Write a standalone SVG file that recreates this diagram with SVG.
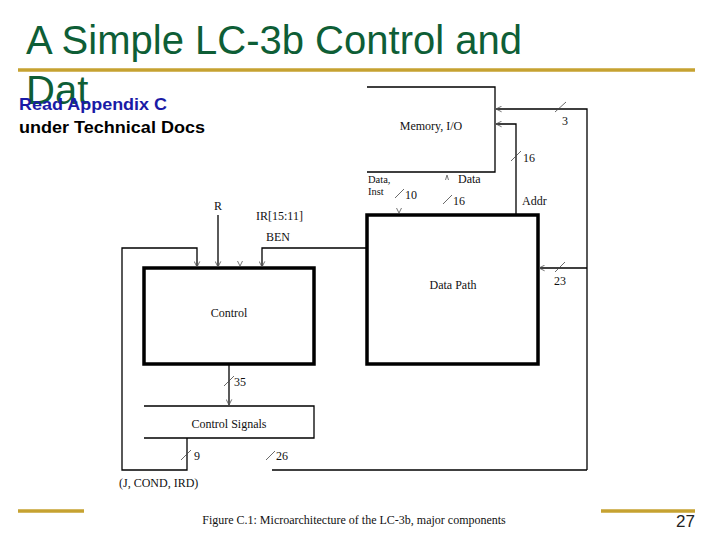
<svg xmlns="http://www.w3.org/2000/svg" width="720" height="540" viewBox="0 0 720 540">
<style>
.title{font-family:"Liberation Sans",Arial,sans-serif;font-size:40px;fill:#0e5e36}
.sub{font-family:"Liberation Sans",Arial,sans-serif;font-size:17px;font-weight:bold}
.t{font-family:"Liberation Serif","Times New Roman",serif;font-size:12px;fill:#111}
.s{font-size:10.5px}
.ln{fill:none;stroke:#000;stroke-width:1.3}
.thick{fill:#fff;stroke:#000;stroke-width:3.5}
.sl{stroke:#444;stroke-width:0.8}
.ah{fill:none;stroke:#666;stroke-width:0.9}
.gold{stroke:#c6a231;stroke-width:3.5}
</style>
<defs>
<marker id="arr" viewBox="0 0 10 10" refX="9" refY="5" markerWidth="7" markerHeight="7" orient="auto-start-reverse" markerUnits="userSpaceOnUse">
<path d="M1,1 L9,5 L1,9" fill="none" stroke="#555" stroke-width="1.2"/>
</marker>
</defs>
<rect width="720" height="540" fill="#fff"/>
<text class="title" x="26" y="54" textLength="496" lengthAdjust="spacingAndGlyphs">A Simple LC-3b Control and</text>
<line class="gold" x1="18" y1="70" x2="695" y2="70"/>
<text class="title" x="26" y="104">Dat</text>
<text class="sub" x="19" y="110" fill="#1a1aa6" textLength="148" lengthAdjust="spacingAndGlyphs">Read Appendix C</text>
<text class="sub" x="19" y="133" fill="#000" textLength="186" lengthAdjust="spacingAndGlyphs">under Technical Docs</text>

<g id="memory">
<path class="ln" d="M367,87 H495 V172 H367"/>
<text class="t" x="431" y="130" text-anchor="middle">Memory, I/O</text>
</g>
<g id="datapath">
<rect class="thick" x="367" y="215" width="171" height="149"/>
<text class="t" x="453" y="289" text-anchor="middle">Data Path</text>
</g>
<g id="control">
<rect class="thick" x="144" y="268" width="170" height="96"/>
<text class="t" x="229" y="317" text-anchor="middle">Control</text>
</g>
<g id="controlsignals">
<path class="ln" d="M144,406 H314 V438 H144"/>
<text class="t" x="229" y="428" text-anchor="middle">Control Signals</text>
</g>

<g id="connectors">
<path class="ln" d="M587,470 V109 H496" marker-end="url(#arr)"/>
<line class="sl" x1="555" y1="112" x2="566" y2="102"/>
<text class="t" x="562" y="125">3</text>
<path class="ln" d="M516,215 V124 H496" marker-end="url(#arr)"/>
<line class="sl" x1="511" y1="161" x2="521" y2="151"/>
<text class="t" x="523" y="162">16</text>
<text class="t" x="522" y="205">Addr</text>
<text class="t s" x="368" y="183">Data,</text>
<text class="t s" x="368" y="195">Inst</text>
<line class="sl" x1="395" y1="198" x2="404" y2="189"/>
<text class="t" x="405" y="199">10</text>
<path class="ah" d="M396.5,208 L399,213 L401.5,208"/>
<path class="ah" d="M445.5,180 L447,175 L448.5,180"/>
<text class="t" x="458" y="183">Data</text>
<line class="sl" x1="443" y1="204" x2="452" y2="195"/>
<text class="t" x="453" y="205">16</text>
<path class="ln" d="M587,268 H539" marker-end="url(#arr)"/>
<line class="sl" x1="555" y1="272" x2="565" y2="262"/>
<text class="t" x="554" y="285">23</text>
<path class="ln" d="M367,248 H262 V267" marker-end="url(#arr)"/>
<text class="t" x="266" y="241">BEN</text>
<path class="ah" d="M237.5,261 L240,266 L242.5,261"/>
<text class="t" x="256" y="220">IR[15:11]</text>
<path class="ln" d="M218,215 V267" marker-end="url(#arr)"/>
<text class="t" x="214" y="210">R</text>
<path class="ln" d="M187,438 V470 H122 V248 H197 V267" marker-end="url(#arr)"/>
<line class="sl" x1="181" y1="460" x2="191" y2="450"/>
<text class="t" x="194" y="460">9</text>
<text class="t" x="119" y="487">(J, COND, IRD)</text>
<path class="ln" d="M229,364 V405" marker-end="url(#arr)"/>
<line class="sl" x1="224" y1="386" x2="234" y2="376"/>
<text class="t" x="234" y="386">35</text>
<path class="ln" d="M272,470 H587"/>
<line class="sl" x1="266" y1="460" x2="275" y2="451"/>
<text class="t" x="276" y="460">26</text>
</g>

<line class="gold" x1="18" y1="511" x2="84" y2="511"/>
<line class="gold" x1="601" y1="511" x2="695" y2="511"/>
<text class="t" x="354" y="524" text-anchor="middle">Figure C.1: Microarchitecture of the LC-3b, major components</text>
<text x="695" y="527" text-anchor="end" font-family="Liberation Sans,Arial,sans-serif" font-size="17" fill="#222">27</text>
</svg>
